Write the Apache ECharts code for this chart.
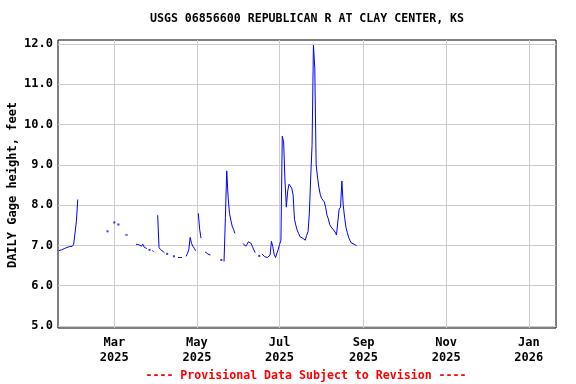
<!DOCTYPE html>
<html>
<head>
<meta charset="utf-8">
<script src="https://cdn.jsdelivr.net/npm/echarts@6/dist/echarts.min.js"></script>
<style>
html,body{margin:0;padding:0;background:#fff;}
#chart{width:576px;height:384px;}
</style>
</head>
<body>
<div id="chart"></div>
<script>
const chartTitle = 'USGS 06856600 REPUBLICAN R AT CLAY CENTER, KS';
const yAxisTitle = 'DAILY Gage height, feet';
const footerText = '---- Provisional Data Subject to Revision ----';

// daily values starting 2025-01-19 (null = no data)
const firstDay = '2025-01-19';
const gageHeight = [
  6.87, 6.88, 6.89, 6.91, 6.92, 6.94, 6.95, 6.96, 6.97, 6.98, 6.98, 7.03, 6.99, 7.6, 8.14,
  null, null, null, null, null, null, null, null, null, null, null, null, null, null, null, null, null, null, null, null, null,
  7.35, null, null, null, null,
  7.57, null, null,
  7.52, null, null, null, null,
  7.26, 7.26, 7.26,
  null, null, null, null, null,
  7.03, 7.03, 7.02, 7.0, 6.98, 7.03, 6.96, 6.94, 6.92,
  null, 6.89, null, 6.87, 6.85, null, null,
  7.75, 6.95, 6.9, 6.87, 6.85, 6.82, null, 6.79,
  null, null, null, null, 6.73, null, null,
  6.7, 6.7, 6.7, 6.7, null, null,
  6.73, 6.8, 6.9, 7.2, 7.05, 6.98, 6.93, 6.87,
  null, 7.8, 7.4, 7.18, null, null,
  6.84, 6.81, 6.79, 6.77, 6.76,
  null, null, null, null, null, null, null,
  6.64, null,
  6.6, 7.7, 8.85, 8.2, 7.8, 7.63, 7.48, 7.4, 7.3,
  null, null, null, null, null,
  7.05, 7.01, 6.98, 7.03, 7.09, 7.13, 7.05, 6.97, 6.89, 6.82,
  null, null, 6.74, null,
  6.79, 6.75, 6.72, 6.71, 6.7, 6.72, 6.76, 7.1, 6.97, 6.78, 6.7, 6.66, 6.9, 7.02, 7.13,
  9.71, 9.57, 8.6, 7.95, 8.35, 8.52, 8.52, 8.42, 8.25, 7.65, 7.5, 7.38, 7.3, 7.22, 7.2, 7.18, 7.15, 7.13, 7.25, 7.34, 7.8,
  8.7, 9.5, 11.97, 11.4, 9.0, 8.7, 8.45, 8.27, 8.17, 8.13, 8.08, 7.95, 7.75, 7.66, 7.52, 7.46, 7.42, 7.38, 7.33, 7.26, 7.22,
  7.9, 7.95, 8.6, 8.0, 7.7, 7.45, 7.32, 7.2, 7.12, 7.06, 7.04, 7.03, 7.01, 6.99
];

const tickDates = ['2025-03-01', '2025-05-01', '2025-07-01', '2025-09-01', '2025-11-01', '2026-01-01'];
const tickLabels = ['Mar\n2025', 'May\n2025', 'Jul\n2025', 'Sep\n2025', 'Nov\n2025', 'Jan\n2026'];
const yTicks = [5, 6, 7, 8, 9, 10, 11, 12];
const xRange = ['2025-01-18T10:00', '2026-01-21T02:00'];

function ts(s) {
  const [d, t] = s.split('T');
  const [y, m, dd] = d.split('-').map(Number);
  let h = 0, mi = 0;
  if (t) { [h, mi] = t.split(':').map(Number); }
  return Date.UTC(y, m - 1, dd, h, mi);
}
const DAY = 86400000;
const t0 = ts(firstDay);
const points = gageHeight.map((v, i) => [t0 + i * DAY, v]);
const isolated = points.filter((p, i) => p[1] != null &&
  (i === 0 || gageHeight[i - 1] == null) &&
  (i === gageHeight.length - 1 || gageHeight[i + 1] == null));
const tickTs = tickDates.map(ts);

const FONT = '"DejaVu Sans Mono", "Liberation Mono", monospace';
const chart = echarts.init(document.getElementById('chart'), null, { renderer: 'canvas' });

chart.setOption({
  animation: false,
  backgroundColor: '#ffffff',
  grid: [
    { left: 58, top: 40, width: 498, height: 288, show: true, borderColor: '#000', borderWidth: 1, backgroundColor: 'transparent', containLabel: false, outerBoundsMode: 'none' },
    { left: 58, top: 44, width: 498, height: 282, containLabel: false, outerBoundsMode: 'none' }
  ],
  xAxis: [
    {
      type: 'value', gridIndex: 0, min: ts(xRange[0]), max: ts(xRange[1]),
      axisLine: { show: false },
      axisTick: { show: false, customValues: tickTs },
      splitLine: { show: true, lineStyle: { color: '#cccccc', width: 1 } },
      axisLabel: {
        customValues: tickTs,
        margin: 7,
        color: '#000', fontFamily: FONT, fontWeight: 'bold', fontSize: 12, lineHeight: 15,
        formatter: function (val) {
          const k = tickTs.indexOf(val);
          return k >= 0 ? tickLabels[k] : '';
        }
      }
    },
    {
      type: 'value', gridIndex: 1, min: ts(xRange[0]), max: ts(xRange[1]), show: false,
      splitLine: { show: false }
    }
  ],
  yAxis: [
    { type: 'value', gridIndex: 0, min: 0, max: 1, show: false, splitLine: { show: false } },
    {
      type: 'value', gridIndex: 1, min: yTicks[0], max: yTicks[yTicks.length - 1], interval: 1,
      axisLine: { show: false }, axisTick: { show: false },
      splitLine: { show: true, lineStyle: { color: '#cccccc', width: 1 } },
      axisLabel: {
        margin: 5, color: '#000', fontFamily: FONT, fontWeight: 'bold', fontSize: 12,
        formatter: v => v.toFixed(1)
      },
      name: yAxisTitle, nameLocation: 'middle', nameGap: 39, nameRotate: 90, nameMoveOverlap: false,
      nameTextStyle: { color: '#000', fontFamily: FONT, fontWeight: 'bold', fontSize: 12 }
    }
  ],
  series: [
    {
      type: 'line', xAxisIndex: 1, yAxisIndex: 1, data: points,
      showSymbol: false, symbol: 'none', connectNulls: false,
      lineStyle: { color: '#0000ff', width: 1 }, silent: true
    },
    {
      type: 'scatter', xAxisIndex: 1, yAxisIndex: 1, data: isolated,
      symbol: 'rect', symbolSize: 2, itemStyle: { color: '#0000ff' }, silent: true
    }
  ],
  graphic: [
    { type: 'text', x: 307, y: 19, style: { text: chartTitle, fill: '#000', font: 'bold 11.6px ' + FONT, textAlign: 'center', textVerticalAlign: 'middle' } },
    { type: 'text', x: 306, y: 376, style: { text: footerText, fill: '#ff0000', font: 'bold 11.6px ' + FONT, textAlign: 'center', textVerticalAlign: 'middle' } }
  ]
});
</script>
</body>
</html>
